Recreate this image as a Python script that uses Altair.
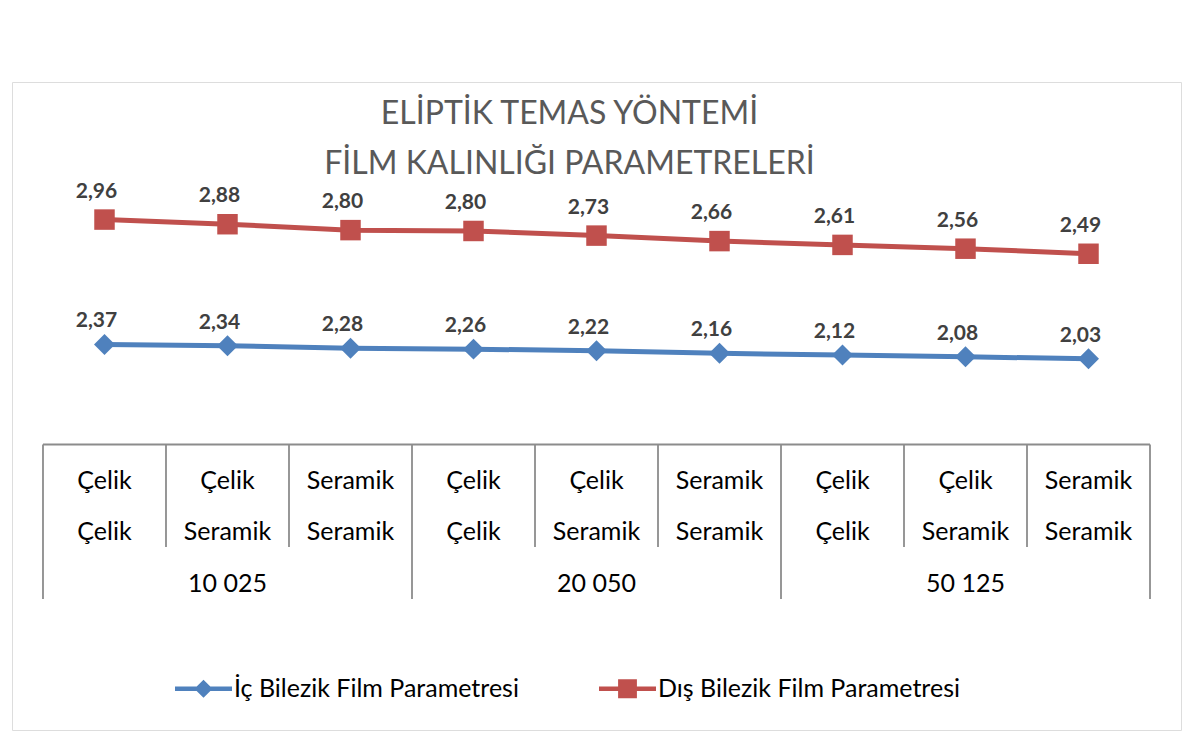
import altair as alt
import pandas as pd

# ---- data ----
row1 = ["Çelik", "Çelik", "Seramik", "Çelik", "Çelik", "Seramik", "Çelik", "Çelik", "Seramik"]
row2 = ["Çelik", "Seramik", "Seramik", "Çelik", "Seramik", "Seramik", "Çelik", "Seramik", "Seramik"]
groups = ["10 025", "20 050", "50 125"]
ic_vals = [2.37, 2.34, 2.28, 2.26, 2.22, 2.16, 2.12, 2.08, 2.03]
dis_vals = [2.96, 2.88, 2.80, 2.80, 2.73, 2.66, 2.61, 2.56, 2.49]
series = ["İç Bilezik Film Parametresi", "Dış Bilezik Film Parametresi"]
title_lines = ["ELİPTİK TEMAS YÖNTEMİ", "FİLM KALINLIĞI PARAMETRELERİ"]

BLUE = "#4F81BD"
RED = "#C0504D"
GRID = "#8c8c8c"
FONT = "Lato"

n = len(ic_vals)
per_group = n // len(groups)

df = pd.DataFrame({
    "idx": list(range(n)),
    "ic": ic_vals,
    "dis": dis_vals,
    "row1": row1,
    "row2": row2,
})

grp_df = pd.DataFrame({
    "label": groups,
    "center": [g * per_group + (per_group - 1) / 2 for g in range(len(groups))],
})
grp_edges = pd.DataFrame({"edge": [g * per_group - 0.5 for g in range(len(groups) + 1)]})
inner_edges = pd.DataFrame({"edge": [i - 0.5 for i in range(1, n) if i % per_group != 0]})
top_line = pd.DataFrame({"a": [-0.5], "b": [n - 0.5]})

W, H = 1169, 648
xs = alt.Scale(domain=[-0.752, n - 1 + 0.752], nice=False, zero=False)
ys = alt.Scale(domain=[-6.765, 8.59], nice=False, zero=False)
X = alt.X("idx:Q", scale=xs, axis=None)

base = alt.Chart(df).transform_calculate(
    top="datum.ic + datum.dis",
    ic_lbl="replace(format(datum.ic, '.2f'), '.', ',')",
    dis_lbl="replace(format(datum.dis, '.2f'), '.', ',')",
)

line_ic = base.mark_line(color=BLUE, strokeWidth=5).encode(x=X, y=alt.Y("ic:Q", scale=ys, axis=None))
line_dis = base.mark_line(color=RED, strokeWidth=5).encode(x=X, y=alt.Y("top:Q", scale=ys, axis=None))
pt_ic = base.mark_point(shape="diamond", filled=True, size=440, color=BLUE, opacity=1).encode(
    x=X, y=alt.Y("ic:Q", scale=ys, axis=None))
pt_dis = base.mark_point(shape="square", filled=True, size=420, color=RED, opacity=1).encode(
    x=X, y=alt.Y("top:Q", scale=ys, axis=None))

lbl_style = dict(font=FONT, fontSize=21, fontWeight="bold", color="#404040", dx=-8)
txt_ic = base.mark_text(dy=-23, **lbl_style).encode(
    x=X, y=alt.Y("ic:Q", scale=ys, axis=None), text="ic_lbl:N")
txt_dis = base.mark_text(dy=-28, **lbl_style).encode(
    x=X, y=alt.Y("top:Q", scale=ys, axis=None), text="dis_lbl:N")

# ---- category table ----
tbl_txt = dict(font=FONT, fontSize=25, color="#000000")
r1 = alt.Chart(df).mark_text(**tbl_txt).encode(x=X, y=alt.value(399), text="row1:N")
r2 = alt.Chart(df).mark_text(**tbl_txt).encode(x=X, y=alt.value(450), text="row2:N")
g_txt = alt.Chart(grp_df).mark_text(**tbl_txt).encode(
    x=alt.X("center:Q", scale=xs, axis=None), y=alt.value(502), text="label:N")
hline = alt.Chart(top_line).mark_rule(color=GRID, strokeWidth=1.8).encode(
    x=alt.X("a:Q", scale=xs, axis=None), x2="b:Q", y=alt.value(362.5))
v_inner = alt.Chart(inner_edges).mark_rule(color=GRID, strokeWidth=1.8).encode(
    x=alt.X("edge:Q", scale=xs, axis=None), y=alt.value(362.5), y2=alt.value(465))
v_group = alt.Chart(grp_edges).mark_rule(color=GRID, strokeWidth=1.8).encode(
    x=alt.X("edge:Q", scale=xs, axis=None), y=alt.value(362.5), y2=alt.value(517))

# ---- legend (native legend; invisible dummy layer) ----
path_diamond = ("M-1,-0.08 L-0.24,-0.08 L0,-0.32 L0.24,-0.08 L1,-0.08 L1,0.08 "
                "L0.24,0.08 L0,0.32 L-0.24,0.08 L-1,0.08 Z")
path_square = ("M-1,-0.08 L-0.33,-0.08 L-0.33,-0.33 L0.33,-0.33 L0.33,-0.08 L1,-0.08 "
               "L1,0.08 L0.33,0.08 L0.33,0.33 L-0.33,0.33 L-0.33,0.08 L-1,0.08 Z")
leg_df = pd.DataFrame({"series": series, "idx": [0, 1]})
leg_props = dict(orient="none", legendX=163, legendY=578, direction="horizontal", title=None,
                 labelFont=FONT, labelFontSize=25, labelColor="#000000",
                 labelOffset=2, columnPadding=80, padding=0,
                 symbolSize=3249, symbolStrokeWidth=0, symbolOpacity=1, labelLimit=0)
legend_layer = alt.Chart(leg_df).mark_point(filled=True, size=10, opacity=0).encode(
    x=alt.X("idx:Q", scale=xs, axis=None),
    y=alt.value(362.5),
    color=alt.Color("series:N", scale=alt.Scale(domain=series, range=[BLUE, RED]),
                    legend=alt.Legend(**leg_props)),
    shape=alt.Shape("series:N", scale=alt.Scale(domain=series, range=[path_diamond, path_square]),
                    legend=alt.Legend(**leg_props)),
)

chart = alt.layer(
    hline, v_inner, v_group, r1, r2, g_txt,
    line_ic, line_dis, pt_ic, pt_dis, txt_ic, txt_dis, legend_layer,
).properties(
    width=W, height=H,
    title=alt.TitleParams(text=title_lines, font=FONT, fontSize=32, fontWeight="normal",
                          color="#595959", lineHeight=50, anchor="middle", dx=-27, offset=-99),
    autosize=alt.AutoSizeParams(type="none"),
    padding={"left": 4, "top": 74, "right": 8, "bottom": 2},
).configure_view(stroke="#858585", strokeWidth=2).configure(background="white")

chart.save("out.html", embed_options={"renderer": "svg", "actions": False})
